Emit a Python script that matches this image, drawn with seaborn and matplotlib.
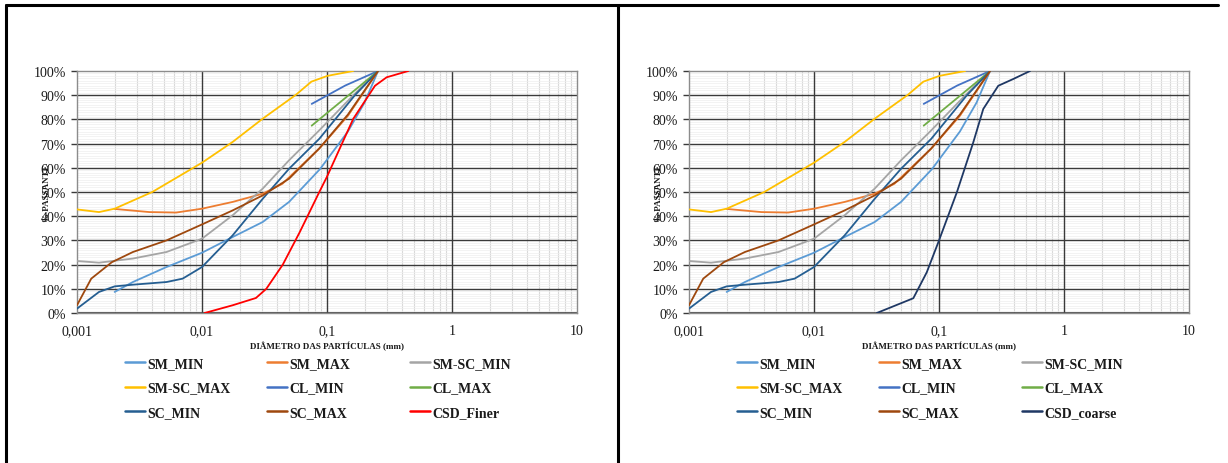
import numpy as np
import pandas as pd
import matplotlib
matplotlib.use("Agg")
import matplotlib.pyplot as plt
from matplotlib.lines import Line2D
from matplotlib.ticker import FixedLocator, FuncFormatter, MultipleLocator, LogLocator, NullFormatter
import seaborn as sns

# ---------------- data (diameter mm, % passing) ----------------
sm_min_d = [0.002, 0.0028, 0.0052, 0.01, 0.0176, 0.0306, 0.0497, 0.088, 0.147, 0.2, 0.256]
sm_min_p = [8.7, 12.8, 19, 24.9, 31.4, 37.6, 45.9, 59.5, 75, 87, 100]

sm_max_d = [0.002, 0.0038, 0.0062, 0.01, 0.0176, 0.0306, 0.044, 0.0868, 0.147, 0.256]
sm_max_p = [43, 41.7, 41.5, 43.1, 45.9, 49.3, 53.4, 68, 81.5, 100]

smsc_min_d = [0.001, 0.0015, 0.0028, 0.0052, 0.01, 0.0176, 0.0306, 0.0497, 0.0868, 0.166, 0.256]
smsc_min_p = [21.5, 20.8, 22.5, 25.2, 30.7, 40.4, 51.4, 63.1, 75.5, 90.5, 100]

smsc_max_d = [0.001, 0.0015, 0.002, 0.004, 0.01, 0.0176, 0.0306, 0.0565, 0.075, 0.101, 0.162]
smsc_max_p = [42.8, 41.7, 43.1, 50, 62.1, 70.7, 80.3, 90.2, 95.6, 98, 100]

cl_min_d = [0.0754, 0.14, 0.256]
cl_min_p = [86.4, 94.0, 100]

cl_max_d = [0.0754, 0.256]
cl_max_p = [77.4, 100]

sc_min_d = [0.001, 0.0015, 0.002, 0.0028, 0.0052, 0.007, 0.01, 0.0176, 0.0306, 0.0497, 0.0868, 0.166, 0.256]
sc_min_p = [1.8, 8.7, 11, 11.7, 12.8, 14.2, 19, 32.1, 47.2, 59.6, 72, 89.8, 100]

sc_max_d = [0.001, 0.0013, 0.0019, 0.0028, 0.0052, 0.01, 0.0176, 0.0306, 0.0497, 0.0868, 0.147, 0.256]
sc_max_p = [3.2, 14.2, 21, 25.2, 30, 36.6, 42.4, 48.6, 55.5, 68, 82, 100]

csd_finer_d = [0.0105, 0.0176, 0.027, 0.0327, 0.0443, 0.0605, 0.0868, 0.0995, 0.162, 0.242, 0.30, 0.447]
csd_finer_p = [0, 3.2, 6.2, 10, 20, 33.4, 50, 56.1, 80.2, 93.9, 97.4, 100]

csd_coarse_d = [0.0318, 0.0623, 0.0798, 0.0987, 0.139, 0.188, 0.226, 0.298, 0.393, 0.535]
csd_coarse_p = [0, 6.1, 16.8, 29.2, 49.9, 70.5, 84.3, 93.9, 96.7, 100]

common_names = ["SM_MIN", "SM_MAX", "SM-SC_MIN", "SM-SC_MAX", "CL_MIN", "CL_MAX", "SC_MIN", "SC_MAX"]
common_d = [sm_min_d, sm_max_d, smsc_min_d, smsc_max_d, cl_min_d, cl_max_d, sc_min_d, sc_max_d]
common_p = [sm_min_p, sm_max_p, smsc_min_p, smsc_max_p, cl_min_p, cl_max_p, sc_min_p, sc_max_p]
common_colors = ["#5B9BD5", "#ED7D31", "#A5A5A5", "#FFC000", "#4472C4", "#70AD47", "#255E91", "#9E480E"]

x_ticks = [0.001, 0.01, 0.1, 1, 10]
x_tick_labels = ["0,001", "0,01", "0,1", "1", "10"]
y_ticks = [0, 10, 20, 30, 40, 50, 60, 70, 80, 90, 100]

# ---------------- style ----------------
sns.set_theme(style="white")
plt.rcParams["font.family"] = ["Liberation Serif", "DejaVu Serif"]

W, H = 1228, 464
fig = plt.figure(figsize=(W / 100, H / 100), dpi=100)
fig.patch.set_facecolor("white")


def px_rect(x0, x1, ytop, ybot):
    return [x0 / W, 1 - ybot / H, (x1 - x0) / W, (ybot - ytop) / H]


def xfmt(v, pos):
    i = int(np.argmin([abs(np.log10(t) - np.log10(v)) for t in x_ticks]))
    return x_tick_labels[i]


def draw_panel(x0, extra_name, extra_d, extra_p, extra_color):
    ax = fig.add_axes(px_rect(x0, x0 + 500, 72, 314))
    names = common_names + [extra_name]
    ds = common_d + [extra_d]
    ps = common_p + [extra_p]
    cols = common_colors + [extra_color]

    ax.set_xscale("log")
    ax.set_xlim(0.001, 10)
    ax.set_ylim(0, 100)
    ax.xaxis.set_major_locator(FixedLocator(x_ticks))
    ax.xaxis.set_major_formatter(FuncFormatter(xfmt))
    ax.xaxis.set_minor_locator(LogLocator(base=10, subs=np.arange(2, 10)))
    ax.xaxis.set_minor_formatter(NullFormatter())
    ax.yaxis.set_major_locator(FixedLocator(y_ticks))
    ax.yaxis.set_minor_locator(MultipleLocator(1))
    ax.yaxis.set_major_formatter(FuncFormatter(lambda v, pos: f"{v:.0f}%"))
    ax.grid(which="minor", axis="y", color="#eeeeee", lw=0.5)
    ax.grid(which="minor", axis="x", color="#d9d9d9", lw=0.8)
    ax.set_axisbelow(True)
    # major grid drawn above the minor grid
    for xv in x_ticks[1:-1]:
        ax.axvline(xv, color="#3a3a3a", lw=1.0, zorder=1.5)
    for yv in y_ticks[1:-1]:
        ax.axhline(yv, color="#3a3a3a", lw=1.0, zorder=1.5)
    ax.axhline(0, color="#3a3a3a", lw=1.2, zorder=1.5)

    handles = []
    for n, d, p, c in zip(names, ds, ps, cols):
        df = pd.DataFrame({"d": d, "p": p})
        sns.lineplot(data=df, x="d", y="p", ax=ax, color=c, lw=1.3,
                     sort=False, estimator=None, legend=False, zorder=3)
        handles.append(Line2D([], [], color=c, lw=1.8))

    for s in ax.spines.values():
        s.set_color("#8c8c8c")
        s.set_linewidth(1.0)
    ax.tick_params(axis="y", which="major", length=4, width=1.0, color="#3a3a3a", pad=4,
                   labelsize=10, labelcolor="#1a1a1a", left=True)
    ax.tick_params(axis="y", which="minor", length=0)
    ax.tick_params(axis="x", which="both", length=0, pad=8, labelsize=10, labelcolor="#1a1a1a")
    ax.set_xlabel("DIÂMETRO DAS PARTÍCULAS (mm)", fontsize=6.5, fontweight="bold", color="#1a1a1a")
    ax.xaxis.set_label_coords(0.5, -0.115)
    ax.set_ylabel("% PASSANTE", fontsize=6.5, fontweight="bold", color="#1a1a1a")
    ax.yaxis.set_label_coords(-0.052, 0.5)

    # legend in 3 columns (row-major order)
    col_x = [x0 + 48, x0 + 190, x0 + 333]
    for ci in range(3):
        idx = [ci, ci + 3, ci + 6]
        leg = fig.legend([handles[i] for i in idx], [names[i] for i in idx],
                         loc="upper left", bbox_to_anchor=(col_x[ci] / W, 1 - 358 / H),
                         frameon=False, borderpad=0, borderaxespad=0,
                         handlelength=1.45, handletextpad=0.15, labelspacing=0.82,
                         prop={"family": ["Liberation Serif"], "weight": "bold", "size": 10})
        for t in leg.get_texts():
            t.set_color("#1a1a1a")
    return ax


draw_panel(77, "CSD_Finer", csd_finer_d, csd_finer_p, "#FF0000")
draw_panel(689, "CSD_coarse", csd_coarse_d, csd_coarse_p, "#1F3864")

# table-like frame
fig.add_artist(Line2D([6 / W, 1218 / W], [1 - 6 / H, 1 - 6 / H], color="black", lw=2.2, transform=fig.transFigure))
fig.add_artist(Line2D([6 / W, 6 / W], [0, 1 - 6 / H], color="black", lw=2.2, transform=fig.transFigure))
fig.add_artist(Line2D([618 / W, 618 / W], [0, 1 - 6 / H], color="black", lw=2.2, transform=fig.transFigure))

fig.savefig("out.png", dpi=100, facecolor="white")
